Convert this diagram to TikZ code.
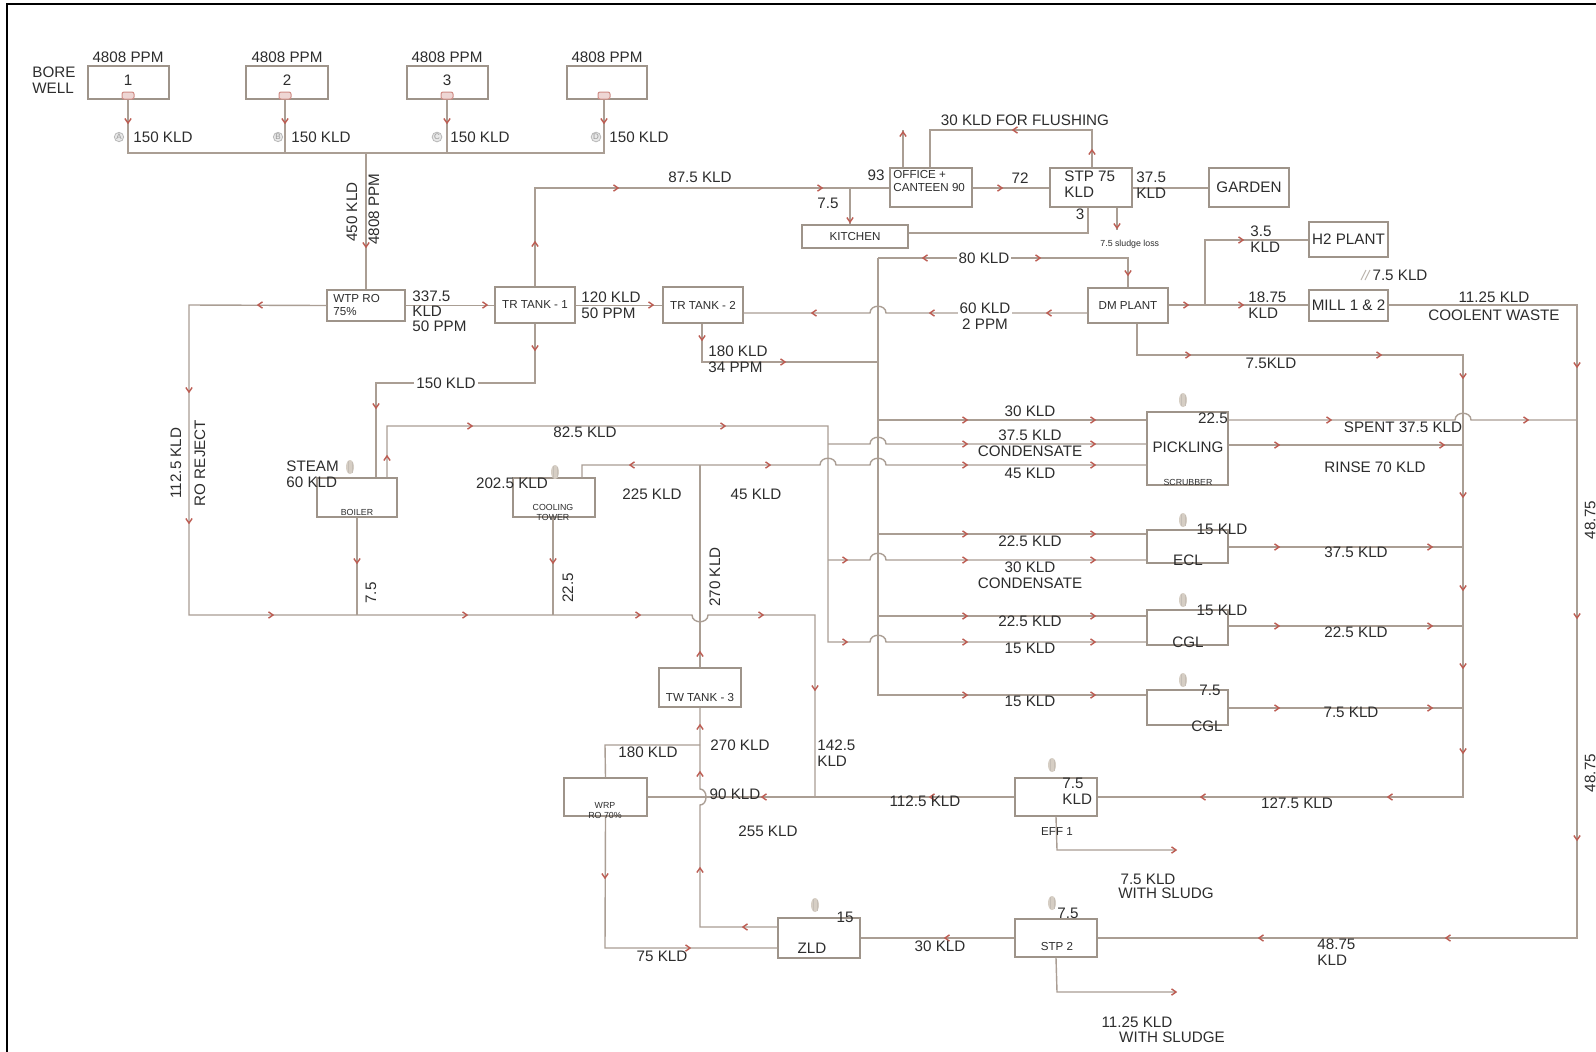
\documentclass[tikz,border=0pt]{standalone}
\usepackage{fontspec}
\setmainfont{Liberation Sans}
\usetikzlibrary{fit}
\definecolor{pipec}{RGB}{170,158,148}
\definecolor{boxc}{RGB}{158,148,138}
\definecolor{flowc}{RGB}{188,92,82}
\definecolor{ink}{RGB}{45,45,45}
\definecolor{vapc}{RGB}{214,206,196}
% flow chevron: x, y, direction (0 right, 90 down, 180 left, 270 up)
\newcommand\flow[3]{\draw[flowarrow] (#1,#2) ++(#3+145:5.5) -- (#1,#2) -- ++(#3-145:5.5);}
% process unit drawn as a rectangle between two corners
\newcommand\unitbox[5]{\node[unitbox, fit={(#2,#3) (#4,#5)}] (#1) {};}
% evaporation mark above a unit
\newcommand\vapour[2]{\fill[vapc] (#1,#2) ellipse (4 and 7);
  \draw[vapc!80!gray, line width=0.5pt] (#1-2,#2+6) -- (#1-2,#2-6) (#1+2,#2+6) -- (#1+2,#2-5);}
% bore-well pump
\newcommand\pump[2]{\draw[flowc!70, fill=flowc!25, line width=0.5pt, rounded corners=1pt] (#1-6,#2-4) rectangle (#1+6,#2+3);}
\tikzset{
  pipe/.style={draw=pipec, line width=0.7pt},
  unitbox/.style={draw=boxc, line width=0.7pt, inner sep=0pt, rectangle},
  flowarrow/.style={draw=flowc, line width=0.7pt},
  lbl/.style={font=\fontsize{7.6}{8.2}\selectfont, text=ink, inner sep=0pt, align=left},
  small/.style={font=\fontsize{5.8}{6.6}\selectfont, text=ink, inner sep=0pt, align=left},
  tiny/.style={font=\fontsize{4.4}{5}\selectfont, text=ink, inner sep=0pt, align=center},
  well/.style={circle, draw=gray!55, fill=gray!18, inner sep=0.3pt, font=\fontsize{4}{4}\selectfont, text=gray!80},
  onpipe/.style={fill=white, inner sep=1pt}
}
\begin{document}
\begin{tikzpicture}[x=0.5pt,y=-0.5pt]
\useasboundingbox (0,0) rectangle (1596,1051);
\fill[white] (0,0) rectangle (1596,1051);
% sheet frame
\draw[black, line width=1.3pt] (7,1060) -- (7,4) -- (1600,4);

% ---------------- units ----------------
\unitbox{bw1}{88}{66}{169}{99}
\unitbox{bw2}{246}{66}{328}{99}
\unitbox{bw3}{407}{66}{488}{99}
\unitbox{bw4}{567}{66}{647}{99}
\unitbox{wtp}{327}{290}{405}{321}
\unitbox{tr1}{495}{287}{575}{323}
\unitbox{tr2}{663}{287}{743}{323}
\unitbox{office}{890}{168}{972}{207}
\unitbox{kitchen}{802}{225}{908}{248}
\unitbox{stp}{1050}{168}{1132}{207}
\unitbox{garden}{1209}{168}{1289}{207}
\unitbox{htwo}{1309}{222}{1388}{257}
\unitbox{mill}{1309}{290}{1388}{321}
\unitbox{dm}{1088}{288}{1168}{323}
\unitbox{boiler}{317}{478}{397}{517}
\unitbox{ctower}{513}{478}{595}{517}
\unitbox{pick}{1147}{412}{1228}{485}
\unitbox{ecl}{1147}{530}{1228}{563}
\unitbox{cgla}{1147}{610}{1228}{645}
\unitbox{cglb}{1147}{690}{1228}{725}
\unitbox{twt}{659}{668}{741}{707}
\unitbox{wrp}{564}{778}{647}{816}
\unitbox{effa}{1015}{778}{1097}{816}
\unitbox{zld}{778}{918}{860}{958}
\unitbox{stpb}{1015}{919}{1097}{957}

% junctions
\coordinate (hdrL) at (128,153);
\coordinate (hdrR) at (604,153);
\coordinate (bus) at (878,258);
\coordinate (coll) at (1463,355);
\coordinate (east) at (1577,305);

% ---------------- bore wells ----------------
\draw[pipe] (bw1.south -| hdrL) -- (hdrL) -- (hdrR) -- (bw4.south -| hdrR);
\draw[pipe] (bw2.south -| 285,0) -- (285,153);
\draw[pipe] (bw3.south -| 447,0) -- (447,153);
\draw[pipe] (wtp.north |- hdrL) -- (wtp.north);
\pump{128}{96}\pump{285}{96}\pump{447}{96}\pump{604}{96}
\flow{128}{123}{90}\flow{285}{123}{90}\flow{447}{123}{90}\flow{604}{123}{90}
\flow{366}{247}{90}

% ---------------- RO reject and drains ----------------
\draw[pipe] (wtp.west) -- (189,305) -- (189,615) -- (692,615)
  .. controls (692,624) and (708,624) .. (708,615) -- (815,615) -- (815,797);
\draw[pipe] (boiler.south -| 357,0) -- (357,615);
\draw[pipe] (ctower.south -| 553,0) -- (553,615);
\flow{258}{305}{180}\flow{189}{392}{90}\flow{189}{523}{90}
\flow{273}{615}{0}\flow{467}{615}{0}\flow{640}{615}{0}\flow{763}{615}{0}
\flow{357}{563}{90}\flow{553}{563}{90}\flow{815}{690}{90}

% ---------------- treated water ----------------
\draw[pipe] (wtp.east) -- (tr1.west |- wtp.east);
\draw[pipe] (tr1.east |- wtp.east) -- (tr2.west |- wtp.east);
\flow{487}{305}{0}\flow{653}{305}{0}
\draw[pipe] (tr1.north) -- (535,188) -- (office.west |- 0,188);
\draw[pipe] (850,188) -- (kitchen.north -| 850,0);
\flow{535}{242}{270}\flow{618}{188}{0}\flow{822}{188}{0}\flow{850}{222}{90}
\draw[pipe] (tr1.south) -- (535,383) -- (376,383) -- (boiler.north -| 376,0);
\flow{535}{350}{90}\flow{376}{408}{90}
\draw[pipe] (tr2.south -| 702,0) -- (702,362) -- (878,362);
\flow{702}{340}{90}\flow{785}{362}{0}

% ---------------- domestic ----------------
\draw[pipe] (office.north -| 903,0) -- (903,130);
\flow{903}{132}{270}
\draw[pipe] (office.north -| 930,0) -- (930,130) -- (1092,130) -- (stp.north -| 1092,0);
\flow{1013}{130}{180}\flow{1092}{150}{270}
\draw[pipe] (office.east |- 0,188) -- (stp.west |- 0,188);
\flow{1002}{188}{0}
\draw[pipe] (kitchen.east |- 0,233) -- (1088,233) -- (stp.south -| 1088,0);
\draw[pipe] (stp.east |- 0,188) -- (garden.west |- 0,188);
\draw[pipe] (stp.south -| 1117,0) -- (1117,230);
\flow{1117}{228}{90}

% ---------------- DM plant ----------------
\draw[pipe] (bus) -- (1128,258) -- (dm.north -| 1128,0);
\flow{923}{258}{180}\flow{1040}{258}{0}\flow{1128}{275}{90}
\draw[pipe] (dm.west |- 0,313) -- (886,313) .. controls (886,304) and (870,304) .. (870,313) -- (tr2.east |- 0,313);
\flow{1047}{313}{180}\flow{930}{313}{180}\flow{812}{313}{180}
\draw[pipe] (dm.east |- 0,305) -- (mill.west |- 0,305);
\draw[pipe] (1205,305) -- (1205,240) -- (htwo.west |- 0,240);
\flow{1188}{305}{0}\flow{1243}{240}{0}\flow{1243}{305}{0}
\draw[pipe] (mill.east |- 0,305) -- (east) -- (1577,938) -- (stpb.east |- 0,938);
\flow{1577}{367}{90}\flow{1577}{618}{90}\flow{1577}{840}{90}
\flow{1446}{938}{180}\flow{1259}{938}{180}
\draw[pipe] (dm.south -| 1137,0) -- (1137,355) -- (coll) -- (1463,797) -- (effa.east |- 0,797);
\flow{1190}{355}{0}\flow{1381}{355}{0}
\flow{1463}{378}{90}\flow{1463}{497}{90}\flow{1463}{590}{90}\flow{1463}{668}{90}\flow{1463}{753}{90}
\flow{1388}{797}{180}\flow{1201}{797}{180}

% ---------------- main distribution bus ----------------
\draw[pipe] (bus) -- (878,695) -- (cglb.west |- 0,695);
\draw[pipe] (878,420) -- (pick.west |- 0,420);
\draw[pipe] (878,534) -- (ecl.west |- 0,534);
\draw[pipe] (878,616) -- (cgla.west |- 0,616);
\foreach \yy in {420,534,616,695} {\flow{967}{\yy}{0}\flow{1095}{\yy}{0}}

% ---------------- steam condensate ----------------
\draw[pipe] (boiler.north -| 387,0) -- (387,426) -- (828,426) -- (828,642) -- (870,642)
  .. controls (870,633) and (886,633) .. (886,642) -- (cgla.west |- 0,642);
\draw[pipe] (828,444) -- (870,444) .. controls (870,435) and (886,435) .. (886,444) -- (pick.west |- 0,444);
\draw[pipe] (828,560) -- (870,560) .. controls (870,551) and (886,551) .. (886,560) -- (ecl.west |- 0,560);
\flow{387}{456}{270}\flow{472}{426}{0}\flow{725}{426}{0}
\flow{847}{560}{0}\flow{847}{642}{0}
\foreach \yy in {444,560,642} {\flow{967}{\yy}{0}\flow{1095}{\yy}{0}}

% ---------------- cooling water from TW tank 3 ----------------
\draw[pipe] (ctower.north -| 582,0) -- (582,465) -- (820,465) .. controls (820,456) and (836,456) .. (836,465)
  -- (870,465) .. controls (870,456) and (886,456) .. (886,465) -- (pick.west |- 0,465);
\draw[pipe] (700,465) -- (twt.north);
\flow{630}{465}{180}\flow{770}{465}{0}\flow{967}{465}{0}\flow{1095}{465}{0}\flow{700}{652}{270}

% ---------------- process effluents ----------------
\draw[pipe] (pick.east |- 0,420) -- (1455,420) .. controls (1455,411) and (1471,411) .. (1471,420) -- (1577,420);
\flow{1331}{420}{0}\flow{1528}{420}{0}
\draw[pipe] (pick.east |- 0,445) -- (1463,445);
\flow{1279}{445}{0}\flow{1444}{445}{0}
\draw[pipe] (ecl.east |- 0,547) -- (1463,547);
\flow{1279}{547}{0}\flow{1432}{547}{0}
\draw[pipe] (cgla.east |- 0,626) -- (1463,626);
\flow{1279}{626}{0}\flow{1432}{626}{0}
\draw[pipe] (cglb.east |- 0,708) -- (1463,708);
\flow{1279}{708}{0}\flow{1432}{708}{0}

% ---------------- recovery loop ----------------
\draw[pipe] (wrp.east |- 0,797) -- (effa.west |- 0,797);
\flow{762}{797}{180}\flow{930}{797}{180}
\draw[pipe] (twt.south) -- (700,789) .. controls (708,789) and (708,805) .. (700,805) -- (700,927) -- (zld.west |- 0,927);
\draw[pipe] (wrp.north) -- (605,745) -- (700,745);
\flow{700}{725}{270}\flow{700}{772}{270}\flow{700}{868}{270}\flow{743}{927}{180}
\draw[pipe] (wrp.south) -- (605,948) -- (zld.west |- 0,948);
\flow{605}{878}{90}\flow{690}{948}{0}
\draw[pipe] (zld.east) -- (stpb.west);
\flow{945}{938}{180}
\draw[pipe] (effa.south) -- (1057,850) -- (1176,850);
\flow{1176}{850}{0}
\draw[pipe] (stpb.south) -- (1057,992) -- (1176,992);
\flow{1176}{992}{0}

% ---------------- evaporation marks ----------------
\vapour{1183}{400}\vapour{1183}{520}\vapour{1183}{600}\vapour{1183}{680}
\vapour{1052}{765}\vapour{1052}{903}\vapour{815}{905}\vapour{350}{467}\vapour{555}{472}

% ---------------- labels ----------------
\foreach \xx in {128,287,447,607} {\node[lbl] at (\xx,57) {4808 PPM};}
\node[lbl] at (128,80) {1};
\node[lbl] at (287,80) {2};
\node[lbl] at (447,80) {3};
\node[lbl, anchor=west] at (32,80) {BORE\\WELL};
\node[well] at (119,137) {A}; \node[lbl, anchor=west] at (133,137) {150 KLD};
\node[well] at (278,137) {B}; \node[lbl, anchor=west] at (291,137) {150 KLD};
\node[well] at (437,137) {C}; \node[lbl, anchor=west] at (450,137) {150 KLD};
\node[well] at (596,137) {D}; \node[lbl, anchor=west] at (609,137) {150 KLD};
\node[lbl, rotate=90] at (352,212) {450 KLD};
\node[lbl, rotate=90] at (374,209) {4808 PPM};
\node[small, anchor=west] at (333,305) {WTP RO\\75\%};
\node[lbl, anchor=west, font=\fontsize{7.6}{7.4}\selectfont] at (412,311) {337.5\\KLD\\50 PPM};
\node[small] at (tr1) {TR TANK - 1};
\node[small] at (tr2) {TR TANK - 2};
\node[lbl, anchor=west] at (581,305) {120 KLD\\50 PPM};
\node[lbl] at (700,177) {87.5 KLD};
\node[lbl, onpipe] at (446,383) {150 KLD};
\node[lbl, anchor=west] at (708,359) {180 KLD\\34 PPM};
\node[lbl] at (876,175) {93};
\node[small, anchor=west] at (893,181) {OFFICE +\\CANTEEN 90};
\node[lbl] at (828,203) {7.5};
\node[small] at (kitchen) {KITCHEN};
\node[lbl] at (1025,120) {30 KLD FOR FLUSHING};
\node[lbl] at (1020,178) {72};
\node[lbl, anchor=west] at (1064,184) {STP 75\\KLD};
\node[lbl] at (1080,214) {3};
\node[lbl, anchor=west] at (1136,185) {37.5\\KLD};
\node[tiny, anchor=west] at (1100,244) {7.5 sludge loss};
\node[lbl] at (garden) {GARDEN};
\node[lbl, onpipe] at (984,258) {80 KLD};
\node[small] at (dm) {DM PLANT};
\node[lbl, onpipe, align=center] at (985,316) {60 KLD\\2 PPM};
\node[lbl, anchor=west] at (1250,239) {3.5\\KLD};
\node[lbl] at (htwo) {H2 PLANT};
\node[lbl, anchor=west] at (1248,305) {18.75\\KLD};
\node[lbl] at (mill) {MILL 1 \& 2};
\draw[vapc!70!gray, line width=0.5pt] (1361,280) -- (1366,270) (1365,280) -- (1370,270);
\node[lbl] at (1400,275) {7.5 KLD};
\node[lbl] at (1494,297) {11.25 KLD};
\node[lbl] at (1494,315) {COOLENT WASTE};
\node[lbl] at (1271,363) {7.5KLD};
\node[lbl, rotate=90] at (176,463) {112.5 KLD};
\node[lbl, rotate=90] at (200,463) {RO REJECT};
\node[lbl, anchor=west] at (286,474) {STEAM\\60 KLD};
\node[tiny] at (357,512) {BOILER};
\node[lbl, rotate=90] at (371,593) {7.5};
\node[lbl] at (585,432) {82.5 KLD};
\node[lbl] at (512,483) {202.5 KLD};
\node[tiny] at (553,512) {COOLING\\TOWER};
\node[lbl] at (652,494) {225 KLD};
\node[lbl] at (756,494) {45 KLD};
\node[lbl, rotate=90] at (568,588) {22.5};
\node[lbl, rotate=90] at (715,577) {270 KLD};
\node[small] at (700,697) {TW TANK - 3};
\node[lbl] at (1030,411) {30 KLD};
\node[lbl, align=center] at (1030,443) {37.5 KLD\\CONDENSATE};
\node[lbl] at (1030,473) {45 KLD};
\node[lbl] at (1188,447) {PICKLING};
\node[tiny] at (1188,482) {SCRUBBER};
\node[lbl] at (1213,418) {22.5};
\node[lbl] at (1403,427) {SPENT 37.5 KLD};
\node[lbl] at (1375,467) {RINSE 70 KLD};
\node[lbl] at (1030,541) {22.5 KLD};
\node[lbl, align=center] at (1030,575) {30 KLD\\CONDENSATE};
\node[lbl] at (1222,529) {15 KLD};
\node[lbl] at (1188,560) {ECL};
\node[lbl] at (1356,552) {37.5 KLD};
\node[lbl] at (1030,621) {22.5 KLD};
\node[lbl] at (1030,648) {15 KLD};
\node[lbl] at (1222,610) {15 KLD};
\node[lbl] at (1188,642) {CGL};
\node[lbl] at (1356,632) {22.5 KLD};
\node[lbl] at (1030,701) {15 KLD};
\node[lbl] at (1210,690) {7.5};
\node[lbl] at (1207,726) {CGL};
\node[lbl] at (1351,712) {7.5 KLD};
\node[lbl] at (1297,803) {127.5 KLD};
\node[lbl, anchor=west] at (1062,791) {7.5\\KLD};
\node[small] at (1057,831) {EFF 1};
\node[lbl] at (1148,879) {7.5 KLD};
\node[lbl] at (1166,893) {WITH SLUDG};
\node[lbl] at (925,801) {112.5 KLD};
\node[lbl, anchor=west] at (817,753) {142.5\\KLD};
\node[lbl] at (740,745) {270 KLD};
\node[lbl] at (648,752) {180 KLD};
\node[lbl] at (735,794) {90 KLD};
\node[tiny] at (605,811) {WRP\\RO 70\%};
\node[lbl] at (768,831) {255 KLD};
\node[lbl] at (662,956) {75 KLD};
\node[lbl] at (812,948) {ZLD};
\node[lbl] at (845,917) {15};
\node[lbl] at (940,946) {30 KLD};
\node[lbl] at (1068,913) {7.5};
\node[small] at (1057,946) {STP 2};
\node[lbl, anchor=west] at (1317,952) {48.75\\KLD};
\node[lbl] at (1137,1022) {11.25 KLD};
\node[lbl] at (1172,1037) {WITH SLUDGE};
\node[lbl, rotate=90] at (1590,520) {48.75};
\node[lbl, rotate=90] at (1590,773) {48.75};
\end{tikzpicture}
\end{document}
